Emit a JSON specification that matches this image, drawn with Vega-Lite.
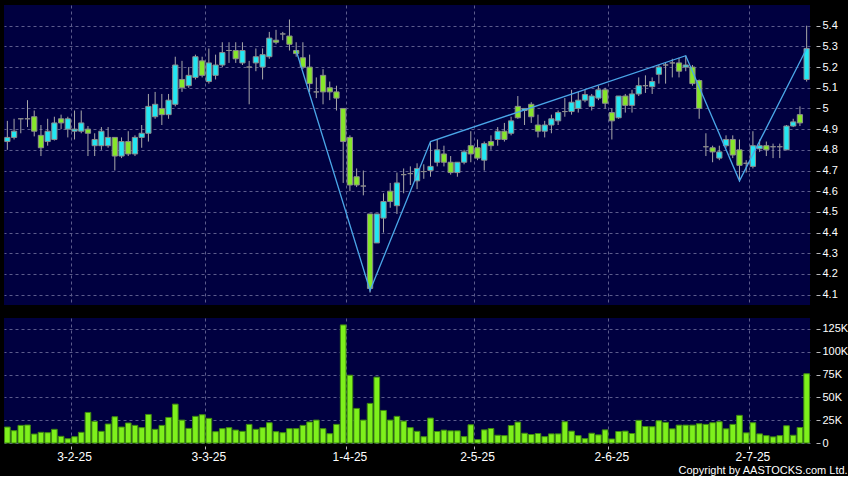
{
  "$schema": "https://vega.github.io/schema/vega-lite/v6.json",
  "background": "#000000",
  "padding": {"left": 4, "top": 5, "right": 0, "bottom": 0},
  "autosize": {"type": "pad"},
  "title": {"text": "Copyright by AASTOCKS.com Ltd.", "orient": "bottom", "anchor": "end", "frame": "bounds", "color": "#ffffff", "fontSize": 11, "font": "Liberation Sans", "fontWeight": "normal", "offset": 3},
  "config": {
    "view": {"fill": "#000040", "stroke": null},
    "font": "Liberation Sans",
    "axis": {"gridColor": "#5c5c8c", "gridDash": [3, 3], "gridWidth": 1, "domain": false, "labelColor": "#ffffff", "labelFontSize": 11, "tickColor": "#bbbbbb", "title": null, "labelOverlap": false}
  },
  "datasets": {
    "px": [
      {"d": "2025-01-15", "o": 4.84, "h": 4.94, "l": 4.80, "c": 4.86, "v": 17500},
      {"d": "2025-01-16", "o": 4.86, "h": 4.95, "l": 4.85, "c": 4.89, "v": 13500},
      {"d": "2025-01-17", "o": 4.95, "h": 4.95, "l": 4.88, "c": 4.95, "v": 19300},
      {"d": "2025-01-20", "o": 4.95, "h": 5.04, "l": 4.91, "c": 4.95, "v": 19700},
      {"d": "2025-01-21", "o": 4.96, "h": 4.99, "l": 4.865, "c": 4.89, "v": 9800},
      {"d": "2025-01-22", "o": 4.87, "h": 4.92, "l": 4.77, "c": 4.81, "v": 11700},
      {"d": "2025-01-23", "o": 4.84, "h": 4.95, "l": 4.82, "c": 4.89, "v": 11300},
      {"d": "2025-01-24", "o": 4.85, "h": 4.96, "l": 4.845, "c": 4.93, "v": 15000},
      {"d": "2025-01-27", "o": 4.95, "h": 4.97, "l": 4.90, "c": 4.93, "v": 7300},
      {"d": "2025-01-28", "o": 4.90, "h": 4.96, "l": 4.86, "c": 4.95, "v": 4700},
      {"d": "2025-02-03", "o": 4.89, "h": 4.99, "l": 4.85, "c": 4.90, "v": 6900},
      {"d": "2025-02-04", "o": 4.89, "h": 4.99, "l": 4.88, "c": 4.93, "v": 11700},
      {"d": "2025-02-05", "o": 4.90, "h": 4.915, "l": 4.77, "c": 4.88, "v": 33500},
      {"d": "2025-02-06", "o": 4.82, "h": 4.88, "l": 4.77, "c": 4.85, "v": 23700},
      {"d": "2025-02-07", "o": 4.82, "h": 4.91, "l": 4.80, "c": 4.89, "v": 12800},
      {"d": "2025-02-10", "o": 4.82, "h": 4.91, "l": 4.81, "c": 4.86, "v": 20800},
      {"d": "2025-02-11", "o": 4.86, "h": 4.86, "l": 4.70, "c": 4.77, "v": 28800},
      {"d": "2025-02-12", "o": 4.77, "h": 4.86, "l": 4.76, "c": 4.84, "v": 17500},
      {"d": "2025-02-13", "o": 4.84, "h": 4.89, "l": 4.77, "c": 4.78, "v": 21900},
      {"d": "2025-02-14", "o": 4.78, "h": 4.87, "l": 4.77, "c": 4.86, "v": 19300},
      {"d": "2025-02-17", "o": 4.86, "h": 4.92, "l": 4.81, "c": 4.88, "v": 16800},
      {"d": "2025-02-18", "o": 4.88, "h": 5.07, "l": 4.84, "c": 5.01, "v": 31300},
      {"d": "2025-02-19", "o": 4.96, "h": 5.08, "l": 4.95, "c": 5.02, "v": 15000},
      {"d": "2025-02-20", "o": 5.00, "h": 5.07, "l": 4.92, "c": 4.97, "v": 19300},
      {"d": "2025-02-21", "o": 4.97, "h": 5.07, "l": 4.95, "c": 5.04, "v": 28000},
      {"d": "2025-02-24", "o": 5.02, "h": 5.25, "l": 5.01, "c": 5.21, "v": 42600},
      {"d": "2025-02-25", "o": 5.14, "h": 5.23, "l": 5.08, "c": 5.10, "v": 25100},
      {"d": "2025-02-26", "o": 5.11, "h": 5.20, "l": 5.10, "c": 5.16, "v": 16000},
      {"d": "2025-02-27", "o": 5.15, "h": 5.26, "l": 5.14, "c": 5.25, "v": 29200},
      {"d": "2025-02-28", "o": 5.23, "h": 5.25, "l": 5.15, "c": 5.16, "v": 31000},
      {"d": "2025-03-03", "o": 5.13, "h": 5.29, "l": 5.12, "c": 5.22, "v": 27000},
      {"d": "2025-03-04", "o": 5.16, "h": 5.26, "l": 5.14, "c": 5.21, "v": 12400},
      {"d": "2025-03-05", "o": 5.21, "h": 5.32, "l": 5.20, "c": 5.27, "v": 15700},
      {"d": "2025-03-06", "o": 5.28, "h": 5.32, "l": 5.22, "c": 5.28, "v": 16800},
      {"d": "2025-03-07", "o": 5.28, "h": 5.32, "l": 5.22, "c": 5.24, "v": 14200},
      {"d": "2025-03-10", "o": 5.22, "h": 5.32, "l": 5.21, "c": 5.28, "v": 12800},
      {"d": "2025-03-11", "o": 5.20, "h": 5.23, "l": 5.02, "c": 5.20, "v": 20400},
      {"d": "2025-03-12", "o": 5.22, "h": 5.29, "l": 5.18, "c": 5.25, "v": 15000},
      {"d": "2025-03-13", "o": 5.20, "h": 5.29, "l": 5.14, "c": 5.26, "v": 16800},
      {"d": "2025-03-14", "o": 5.25, "h": 5.37, "l": 5.24, "c": 5.34, "v": 22200},
      {"d": "2025-03-17", "o": 5.33, "h": 5.38, "l": 5.31, "c": 5.32, "v": 12400},
      {"d": "2025-03-18", "o": 5.36, "h": 5.37, "l": 5.33, "c": 5.36, "v": 11300},
      {"d": "2025-03-19", "o": 5.35, "h": 5.43, "l": 5.28, "c": 5.31, "v": 15700},
      {"d": "2025-03-20", "o": 5.28, "h": 5.32, "l": 5.25, "c": 5.265, "v": 15700},
      {"d": "2025-03-21", "o": 5.245, "h": 5.32, "l": 5.19, "c": 5.20, "v": 19300},
      {"d": "2025-03-24", "o": 5.20, "h": 5.26, "l": 5.08, "c": 5.12, "v": 23000},
      {"d": "2025-03-25", "o": 5.08, "h": 5.15, "l": 5.05, "c": 5.08, "v": 25100},
      {"d": "2025-03-26", "o": 5.16, "h": 5.19, "l": 5.02, "c": 5.08, "v": 15700},
      {"d": "2025-03-27", "o": 5.10, "h": 5.13, "l": 5.04, "c": 5.08, "v": 10200},
      {"d": "2025-03-28", "o": 5.08, "h": 5.11, "l": 4.99, "c": 5.05, "v": 20400},
      {"d": "2025-03-31", "o": 5.00, "h": 5.00, "l": 4.64, "c": 4.84, "v": 129400},
      {"d": "2025-04-01", "o": 4.86, "h": 4.87, "l": 4.60, "c": 4.63, "v": 74300},
      {"d": "2025-04-02", "o": 4.67, "h": 4.71, "l": 4.62, "c": 4.63, "v": 37900},
      {"d": "2025-04-03", "o": 4.625, "h": 4.70, "l": 4.58, "c": 4.625, "v": 25100},
      {"d": "2025-04-07", "o": 4.49, "h": 4.49, "l": 4.11, "c": 4.13, "v": 43400},
      {"d": "2025-04-08", "o": 4.35, "h": 4.49, "l": 4.35, "c": 4.49, "v": 72200},
      {"d": "2025-04-09", "o": 4.47, "h": 4.59, "l": 4.40, "c": 4.55, "v": 35700},
      {"d": "2025-04-10", "o": 4.60, "h": 4.64, "l": 4.52, "c": 4.55, "v": 25100},
      {"d": "2025-04-11", "o": 4.53, "h": 4.69, "l": 4.49, "c": 4.64, "v": 29200},
      {"d": "2025-04-14", "o": 4.68, "h": 4.71, "l": 4.59, "c": 4.68, "v": 24000},
      {"d": "2025-04-15", "o": 4.685, "h": 4.72, "l": 4.63, "c": 4.685, "v": 16800},
      {"d": "2025-04-16", "o": 4.65, "h": 4.735, "l": 4.61, "c": 4.71, "v": 12800},
      {"d": "2025-04-17", "o": 4.695, "h": 4.73, "l": 4.66, "c": 4.695, "v": 6900},
      {"d": "2025-04-22", "o": 4.70, "h": 4.84, "l": 4.67, "c": 4.72, "v": 27300},
      {"d": "2025-04-23", "o": 4.74, "h": 4.85, "l": 4.72, "c": 4.80, "v": 12600},
      {"d": "2025-04-24", "o": 4.78, "h": 4.82, "l": 4.72, "c": 4.74, "v": 14100},
      {"d": "2025-04-25", "o": 4.74, "h": 4.77, "l": 4.68, "c": 4.69, "v": 13300},
      {"d": "2025-04-28", "o": 4.69, "h": 4.74, "l": 4.67, "c": 4.74, "v": 13300},
      {"d": "2025-04-29", "o": 4.74, "h": 4.80, "l": 4.73, "c": 4.79, "v": 7000},
      {"d": "2025-04-30", "o": 4.82, "h": 4.89, "l": 4.74, "c": 4.78, "v": 20000},
      {"d": "2025-05-02", "o": 4.81, "h": 4.85, "l": 4.75, "c": 4.76, "v": 3700},
      {"d": "2025-05-06", "o": 4.75, "h": 4.84, "l": 4.70, "c": 4.83, "v": 14400},
      {"d": "2025-05-07", "o": 4.84, "h": 4.87, "l": 4.80, "c": 4.82, "v": 15900},
      {"d": "2025-05-08", "o": 4.85, "h": 4.91, "l": 4.82, "c": 4.89, "v": 8500},
      {"d": "2025-05-09", "o": 4.89, "h": 4.93, "l": 4.84, "c": 4.85, "v": 8100},
      {"d": "2025-05-12", "o": 4.88, "h": 4.96, "l": 4.87, "c": 4.94, "v": 19200},
      {"d": "2025-05-13", "o": 5.01, "h": 5.06, "l": 4.95, "c": 4.955, "v": 22900},
      {"d": "2025-05-14", "o": 4.99, "h": 5.00, "l": 4.92, "c": 5.00, "v": 10700},
      {"d": "2025-05-15", "o": 5.02, "h": 5.03, "l": 4.93, "c": 4.96, "v": 9300},
      {"d": "2025-05-16", "o": 4.92, "h": 4.97, "l": 4.86, "c": 4.89, "v": 10400},
      {"d": "2025-05-19", "o": 4.89, "h": 4.94, "l": 4.86, "c": 4.92, "v": 7000},
      {"d": "2025-05-20", "o": 4.92, "h": 4.97, "l": 4.88, "c": 4.95, "v": 10000},
      {"d": "2025-05-21", "o": 4.94, "h": 4.99, "l": 4.92, "c": 4.98, "v": 10000},
      {"d": "2025-05-22", "o": 4.985, "h": 5.05, "l": 4.96, "c": 4.985, "v": 23300},
      {"d": "2025-05-23", "o": 4.985, "h": 5.09, "l": 4.97, "c": 5.03, "v": 13000},
      {"d": "2025-05-26", "o": 5.00, "h": 5.08, "l": 4.98, "c": 5.04, "v": 8100},
      {"d": "2025-05-27", "o": 5.04, "h": 5.09, "l": 5.03, "c": 5.067, "v": 4800},
      {"d": "2025-05-28", "o": 5.01, "h": 5.07, "l": 4.99, "c": 5.06, "v": 10700},
      {"d": "2025-05-29", "o": 5.05, "h": 5.11, "l": 5.04, "c": 5.09, "v": 8900},
      {"d": "2025-05-30", "o": 5.09, "h": 5.10, "l": 5.00, "c": 5.025, "v": 14400},
      {"d": "2025-06-02", "o": 4.98, "h": 5.00, "l": 4.85, "c": 4.94, "v": 4400},
      {"d": "2025-06-03", "o": 4.955, "h": 5.06, "l": 4.95, "c": 5.06, "v": 12600},
      {"d": "2025-06-04", "o": 5.06, "h": 5.07, "l": 4.98, "c": 5.015, "v": 13000},
      {"d": "2025-06-05", "o": 5.015, "h": 5.09, "l": 4.98, "c": 5.07, "v": 10400},
      {"d": "2025-06-06", "o": 5.07, "h": 5.15, "l": 5.06, "c": 5.11, "v": 24800},
      {"d": "2025-06-09", "o": 5.11, "h": 5.16, "l": 5.075, "c": 5.11, "v": 18100},
      {"d": "2025-06-10", "o": 5.105, "h": 5.15, "l": 5.07, "c": 5.13, "v": 17800},
      {"d": "2025-06-11", "o": 5.165, "h": 5.21, "l": 5.12, "c": 5.20, "v": 24400},
      {"d": "2025-06-12", "o": 5.21, "h": 5.22, "l": 5.12, "c": 5.21, "v": 22600},
      {"d": "2025-06-13", "o": 5.22, "h": 5.24, "l": 5.15, "c": 5.22, "v": 15500},
      {"d": "2025-06-16", "o": 5.22, "h": 5.245, "l": 5.15, "c": 5.18, "v": 19600},
      {"d": "2025-06-17", "o": 5.20, "h": 5.255, "l": 5.18, "c": 5.21, "v": 19600},
      {"d": "2025-06-18", "o": 5.20, "h": 5.21, "l": 5.11, "c": 5.12, "v": 19600},
      {"d": "2025-06-19", "o": 5.135, "h": 5.14, "l": 4.95, "c": 5.00, "v": 21100},
      {"d": "2025-06-20", "o": 4.815, "h": 4.88, "l": 4.77, "c": 4.815, "v": 20400},
      {"d": "2025-06-23", "o": 4.81, "h": 4.82, "l": 4.74, "c": 4.79, "v": 22200},
      {"d": "2025-06-24", "o": 4.76, "h": 4.82, "l": 4.75, "c": 4.79, "v": 23300},
      {"d": "2025-06-25", "o": 4.82, "h": 4.87, "l": 4.81, "c": 4.85, "v": 15500},
      {"d": "2025-06-26", "o": 4.85, "h": 4.87, "l": 4.76, "c": 4.775, "v": 20400},
      {"d": "2025-06-27", "o": 4.80, "h": 4.85, "l": 4.645, "c": 4.725, "v": 30300},
      {"d": "2025-06-30", "o": 4.735, "h": 4.75, "l": 4.69, "c": 4.735, "v": 11100},
      {"d": "2025-07-02", "o": 4.72, "h": 4.89, "l": 4.71, "c": 4.82, "v": 22200},
      {"d": "2025-07-03", "o": 4.805, "h": 4.85, "l": 4.79, "c": 4.82, "v": 10000},
      {"d": "2025-07-04", "o": 4.82, "h": 4.84, "l": 4.77, "c": 4.80, "v": 8100},
      {"d": "2025-07-07", "o": 4.815, "h": 4.83, "l": 4.76, "c": 4.815, "v": 6700},
      {"d": "2025-07-08", "o": 4.815, "h": 4.83, "l": 4.76, "c": 4.815, "v": 8100},
      {"d": "2025-07-09", "o": 4.80, "h": 4.92, "l": 4.80, "c": 4.915, "v": 18900},
      {"d": "2025-07-10", "o": 4.915, "h": 4.95, "l": 4.91, "c": 4.935, "v": 8500},
      {"d": "2025-07-11", "o": 4.97, "h": 5.01, "l": 4.915, "c": 4.93, "v": 17000},
      {"d": "2025-07-14", "o": 5.14, "h": 5.40, "l": 5.13, "c": 5.29, "v": 75900}
    ],
    "zz": [
      {"d": "2025-03-20", "p": 5.28},
      {"d": "2025-04-07", "p": 4.12},
      {"d": "2025-04-22", "p": 4.84},
      {"d": "2025-06-17", "p": 5.255},
      {"d": "2025-06-27", "p": 4.65},
      {"d": "2025-07-14", "p": 5.29}
    ]
  },
  "spacing": 13,
  "vconcat": [
    {
      "width": 806,
      "height": 300,
      "encoding": {
        "x": {"field": "d", "type": "ordinal", "scale": {"paddingInner": 0, "paddingOuter": 0},
          "axis": {"values": ["2025-02-03", "2025-03-03", "2025-04-01", "2025-05-02", "2025-06-02", "2025-07-02"], "bandPosition": 0, "labels": false, "ticks": false, "grid": true, "domain": false}}
      },
      "layer": [
        {
          "data": {"name": "px"},
          "mark": {"type": "rule", "color": "#a8a8a8", "strokeWidth": 1},
          "encoding": {
            "y": {"field": "l", "type": "quantitative", "scale": {"domain": [4.05, 5.5], "nice": false, "zero": false},
              "axis": {"orient": "right", "values": [4.1, 4.2, 4.3, 4.4, 4.5, 4.6, 4.7, 4.8, 4.9, 5.0, 5.1, 5.2, 5.3, 5.4], "format": "~g", "grid": true, "offset": 6, "tickSize": 4, "labelPadding": 2, "labelOverlap": false, "labelBound": false}},
            "y2": {"field": "h"}
          }
        },
        {
          "data": {"name": "px"},
          "mark": {"type": "bar", "width": {"band": 0.78}, "stroke": "#8c8c8c", "strokeWidth": 1},
          "encoding": {
            "y": {"field": "o", "type": "quantitative",
              "axis": {"orient": "right", "values": [4.1, 4.2, 4.3, 4.4, 4.5, 4.6, 4.7, 4.8, 4.9, 5.0, 5.1, 5.2, 5.3, 5.4], "format": "~g", "grid": true, "offset": 6, "tickSize": 4, "labelPadding": 2, "labelOverlap": false, "labelBound": false}},
            "y2": {"field": "c"},
            "fill": {"condition": {"test": "datum.c >= datum.o", "value": "#22e6f2"}, "value": "#86e62a"}
          }
        },
        {
          "data": {"name": "zz"},
          "mark": {"type": "line", "color": "#4aa6e8", "strokeWidth": 1.3},
          "encoding": {
            "y": {"field": "p", "type": "quantitative",
              "axis": {"orient": "right", "values": [4.1, 4.2, 4.3, 4.4, 4.5, 4.6, 4.7, 4.8, 4.9, 5.0, 5.1, 5.2, 5.3, 5.4], "format": "~g", "grid": true, "offset": 6, "tickSize": 4, "labelPadding": 2, "labelOverlap": false, "labelBound": false}}
          }
        }
      ]
    },
    {
      "width": 806,
      "height": 125,
      "data": {"name": "px"},
      "mark": {"type": "bar", "width": {"band": 0.84}, "fill": "#7ef01c", "stroke": "#3f8a10", "strokeWidth": 1},
      "encoding": {
        "x": {"field": "d", "type": "ordinal", "scale": {"paddingInner": 0, "paddingOuter": 0},
          "axis": {"values": ["2025-02-03", "2025-03-03", "2025-04-01", "2025-05-02", "2025-06-02", "2025-07-02"], "bandPosition": 0, "labelExpr": "utcFormat(toDate(datum.value), '%-d-%-m-%y')", "labelAngle": 0, "labelOverlap": false, "grid": true, "ticks": true, "tickSize": 3, "offset": 3, "labelPadding": 2, "labelFontSize": 12}},
        "y": {"field": "v", "type": "quantitative", "scale": {"domain": [0, 137000], "nice": false},
          "axis": {"orient": "right", "values": [0, 25000, 50000, 75000, 100000, 125000], "labelExpr": "datum.value == 0 ? '0' : (datum.value / 1000) + 'K'", "grid": true, "offset": 6, "tickSize": 4, "labelPadding": 2, "labelOverlap": false}}
      }
    }
  ]
}
